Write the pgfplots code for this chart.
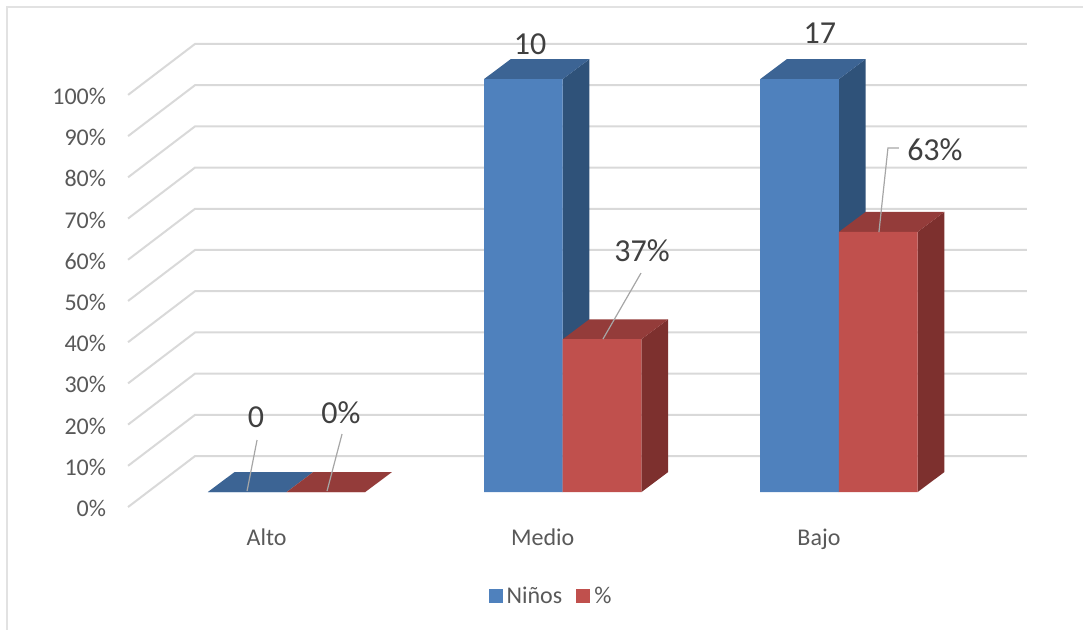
\documentclass[border=0pt]{standalone}
\usepackage{fontspec}
\setmainfont{Carlito}
\usepackage{pgfplots}
\pgfplotsset{compat=1.18}
\definecolor{gridc}{HTML}{D9D9D9}
\definecolor{framec}{HTML}{E2E2E2}
\definecolor{leadc}{HTML}{A6A6A6}
\definecolor{tickc}{HTML}{595959}
\definecolor{labc}{HTML}{404040}
\definecolor{bluef}{HTML}{4F81BD}
\definecolor{bluet}{HTML}{3C6494}
\definecolor{blues}{HTML}{2F5279}
\definecolor{redf}{HTML}{C0504D}
\definecolor{redt}{HTML}{943C3A}
\definecolor{reds}{HTML}{7D302E}
\newcommand{\tickfont}{\fontsize{24}{28}\selectfont}
\newcommand{\labfont}{\fontsize{32}{38}\selectfont}
\begin{document}
\begin{tikzpicture}
\begin{axis}[
    scale only axis,
    width=1083pt, height=630pt,
    xmin=-1.0371, xmax=2.8833,
    ymin=-33.41, ymax=119.13,
    axis line style={draw=none},
    major tick length=0pt,
    xtick={0,1,2},
    xticklabels={Alto,Medio,Bajo},
    ytick={-3.63,6.35,16.33,26.31,36.29,46.27,56.25,66.23,76.21,86.19,96.17},
    yticklabels={0\%,10\%,20\%,30\%,40\%,50\%,60\%,70\%,80\%,90\%,100\%},
    x tick label style={font=\tickfont, text=tickc, anchor=base, xshift=-20pt, yshift=85pt},
    y tick label style={font=\tickfont, text=tickc, anchor=east, xshift=109.5pt, yshift=-1.5pt},
    bar width=0.285,
    unbounded coords=jump,
    legend image code/.code={\fill[#1] (0pt,-7pt) rectangle (14pt,7pt);},
    legend style={at={(axis cs:0.9575,-25.18)}, anchor=center, draw=none, fill=none,
        font=\tickfont, text=tickc, legend columns=2,
        /tikz/every odd column/.append style={column sep=2pt},
        /tikz/every even column/.append style={column sep=12pt}},
]
% chart frame
\addplot[framec, line width=2pt, forget plot] coordinates {(-1.0118,-33.41) (-1.0118,117.43) (2.8833,117.43)};
% gridlines
\addplot[gridc, line width=2pt, forget plot] coordinates {
    (-0.5738,-3.63) (-0.3312,8.72) (2.680,8.72) (2.680,nan)
    (-0.5738,6.35) (-0.3312,18.70) (2.680,18.70) (2.680,nan)
    (-0.5738,16.33) (-0.3312,28.68) (2.680,28.68) (2.680,nan)
    (-0.5738,26.31) (-0.3312,38.66) (2.680,38.66) (2.680,nan)
    (-0.5738,36.29) (-0.3312,48.64) (2.680,48.64) (2.680,nan)
    (-0.5738,46.27) (-0.3312,58.62) (2.680,58.62) (2.680,nan)
    (-0.5738,56.25) (-0.3312,68.60) (2.680,68.60) (2.680,nan)
    (-0.5738,66.23) (-0.3312,78.58) (2.680,78.58) (2.680,nan)
    (-0.5738,76.21) (-0.3312,88.56) (2.680,88.56) (2.680,nan)
    (-0.5738,86.19) (-0.3312,98.54) (2.680,98.54) (2.680,nan)
    (-0.5738,96.17) (-0.3312,108.52) (2.680,108.52)
};
% Alto, flat tops
\addplot[fill=bluet, draw=none, forget plot] coordinates {(-0.285,0) (0,0) (0.0967,4.84) (-0.1883,4.84)} -- cycle;
\addplot[fill=redt, draw=none, forget plot] coordinates {(0,0) (0.285,0) (0.3817,4.84) (0.0967,4.84)} -- cycle;
% Medio, blue sides
\addplot[fill=blues, draw=none, forget plot] coordinates {(1,0) (1,100) (1.0967,104.84) (1.0967,4.84)} -- cycle;
\addplot[fill=bluet, draw=none, forget plot] coordinates {(0.715,100) (1,100) (1.0967,104.84) (0.8117,104.84)} -- cycle;
% Bajo, blue sides
\addplot[fill=blues, draw=none, forget plot] coordinates {(2,0) (2,100) (2.0967,104.84) (2.0967,4.84)} -- cycle;
\addplot[fill=bluet, draw=none, forget plot] coordinates {(1.715,100) (2,100) (2.0967,104.84) (1.8117,104.84)} -- cycle;
% Medio, red sides
\addplot[fill=reds, draw=none, forget plot] coordinates {(1.285,0) (1.285,37) (1.3817,41.84) (1.3817,4.84)} -- cycle;
\addplot[fill=redt, draw=none, forget plot] coordinates {(1,37) (1.285,37) (1.3817,41.84) (1.0967,41.84)} -- cycle;
% Bajo, red sides
\addplot[fill=reds, draw=none, forget plot] coordinates {(2.285,0) (2.285,63) (2.3817,67.84) (2.3817,4.84)} -- cycle;
\addplot[fill=redt, draw=none, forget plot] coordinates {(2,63) (2.285,63) (2.3817,67.84) (2.0967,67.84)} -- cycle;
% front faces
\addplot[ybar, bar shift=-0.1425, fill=bluef, draw=none] coordinates {(0,0) (1,100) (2,100)};
\addplot[ybar, bar shift=0.1425, fill=redf, draw=none] coordinates {(0,0) (1,37) (2,63)};
\legend{Niños,\%}
% leader lines
\addplot[leadc, line width=1.2pt, forget plot] coordinates {(-0.1068,12.59) (-0.143,0.24)};
\addplot[leadc, line width=1.2pt, forget plot] coordinates {(0.2009,14.04) (0.1466,0.24)};
\addplot[leadc, line width=1.2pt, forget plot] coordinates {(1.2833,53.03) (1.1457,37.05)};
\addplot[leadc, line width=1.2pt, forget plot] coordinates {(2.2172,83.29) (2.1774,83.29) (2.1448,62.95)};
% data labels
\node[font=\labfont, text=labc] at (axis cs:-0.1104,18.0) {0};
\node[font=\labfont, text=labc] at (axis cs:0.1973,19.2) {0\%};
\node[font=\labfont, text=labc] at (axis cs:0.8815,108.5) {10};
\node[font=\labfont, text=labc] at (axis cs:1.2869,58.4) {37\%};
\node[font=\labfont, text=labc] at (axis cs:1.9312,111.2) {17};
\node[font=\labfont, text=labc] at (axis cs:2.3475,82.9) {63\%};
\end{axis}
\end{tikzpicture}
\end{document}
